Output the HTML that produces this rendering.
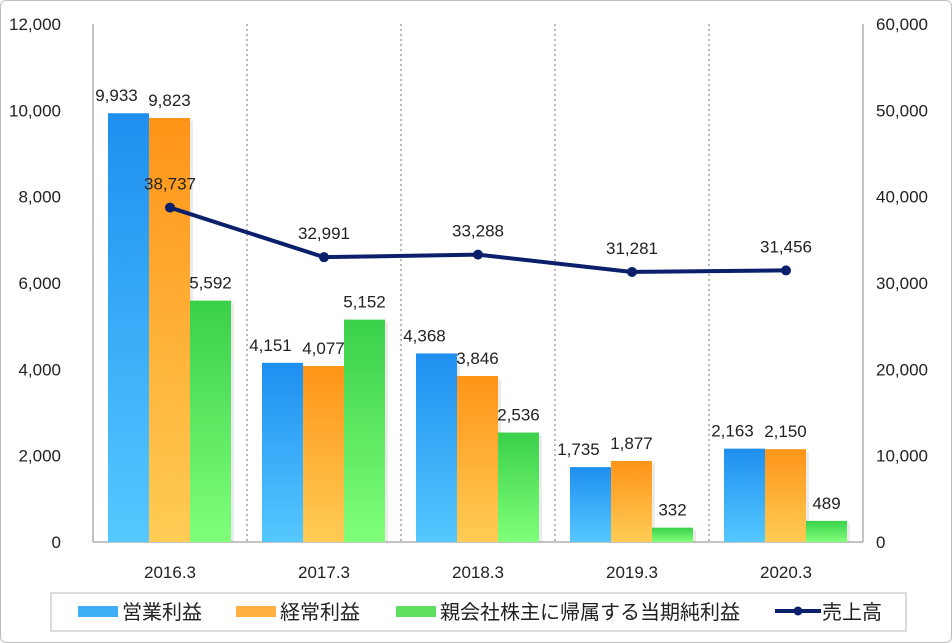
<!DOCTYPE html>
<html><head><meta charset="utf-8"><style>
html,body{margin:0;padding:0;background:#fff;}
#wrap{position:relative;width:950px;height:641px;border:1px solid #bdbdbd;border-radius:6px;overflow:hidden;}
svg text{font-family:"Liberation Sans","Noto Sans CJK JP",sans-serif;fill:#222;}
</style></head><body>
<div id="wrap">
<svg id="chart" width="952" height="643">
<defs>
<linearGradient id="gBlue" x1="0" y1="0" x2="0" y2="1"><stop offset="0" stop-color="#1e8ff0"/><stop offset="1" stop-color="#55c8ff"/></linearGradient>
<linearGradient id="gOrange" x1="0" y1="0" x2="0" y2="1"><stop offset="0" stop-color="#ff9418"/><stop offset="1" stop-color="#ffcc55"/></linearGradient>
<linearGradient id="gGreen" x1="0" y1="0" x2="0" y2="1"><stop offset="0" stop-color="#3ad04a"/><stop offset="1" stop-color="#80ff7a"/></linearGradient>
</defs>
</svg>
</div>
<script>
const categories=["2016.3","2017.3","2018.3","2019.3","2020.3"];
const operatingProfit=[9933,4151,4368,1735,2163];
const ordinaryProfit=[9823,4077,3846,1877,2150];
const netProfit=[5592,5152,2536,332,489];
const sales=[38737,32991,33288,31281,31456];
const leftTicks=[0,2000,4000,6000,8000,10000,12000];
const rightTicks=[0,10000,20000,30000,40000,50000,60000];

const NS="http://www.w3.org/2000/svg";
const svg=document.getElementById('chart');
const X0=92,X1=862,Y0=541,Y1=23;
const gw=(X1-X0)/categories.length;
const yL=v=>Y0-(v/12000)*(Y0-Y1);
const yR=v=>Y0-(v/60000)*(Y0-Y1);
const xc=i=>X0+gw*(i+0.5);
function mk(t,a,txt){const e=document.createElementNS(NS,t);for(const k in a)e.setAttribute(k,a[k]);if(txt!==undefined)e.textContent=txt;svg.appendChild(e);return e;}
const fmt=v=>v.toLocaleString('en-US');

for(let i=1;i<categories.length;i++){
 const g=mk('line',{x1:X0+gw*i,x2:X0+gw*i,y1:Y1,y2:Y0,stroke:'#777','stroke-dasharray':'2,3'});
 
 
}
const la=mk('line',{x1:X0,x2:X0,y1:Y1,y2:Y0,stroke:'#888'});


const ra=mk('line',{x1:X1,x2:X1,y1:Y1,y2:Y0,stroke:'#888'});


const ba=mk('line',{x1:X0,x2:X1,y1:Y0,y2:Y0,stroke:'#888'});



leftTicks.forEach(v=>{const t=mk('text',{x:60,y:yL(v)+6,'text-anchor':'end','font-size':17},fmt(v));
 
 });
rightTicks.forEach(v=>{const t=mk('text',{x:875,y:yR(v)+6,'font-size':17},fmt(v));
 
 });
categories.forEach((c,i)=>{const t=mk('text',{x:xc(i),y:577,'text-anchor':'middle','font-size':17},c);
 
 });

const series=[[operatingProfit,'url(#gBlue)','bar-operating-profit'],[ordinaryProfit,'url(#gOrange)','bar-ordinary-profit'],[netProfit,'url(#gGreen)','bar-net-profit']];
const bw=41;
series.forEach((s,k)=>{
 s[0].forEach((v,i)=>{
  const x=xc(i)-62+k*bw;
  const sh=mk('rect',{x:x+3,y:yL(v)+3,width:bw,height:Y0-yL(v)-3,fill:'#000',opacity:0.08});
  
  
  const r=mk('rect',{x:x,y:yL(v),width:bw,height:Y0-yL(v),fill:s[1]});
  
  
  const lx=k==0?x+bw/2-12:x+bw/2;
  const t=mk('text',{x:lx,y:yL(v)-12,'text-anchor':'middle','font-size':17},fmt(v));
  
  
 });
});

const pts=sales.map((v,i)=>xc(i)+','+yR(v)).join(' ');
const pl=mk('polyline',{points:pts,fill:'none',stroke:'#0b1f6b','stroke-width':4});


sales.forEach((v,i)=>{
 const c=mk('circle',{cx:xc(i),cy:yR(v),r:5,fill:'#0b1f6b'});
 
 
 const t=mk('text',{x:xc(i),y:yR(v)-18,'text-anchor':'middle','font-size':17},fmt(v));
 
 
});

const lb=mk('rect',{x:50,y:592,width:855,height:38,fill:'#fff',stroke:'#d0d0d0','stroke-width':1.5});


const leg=[[77,'#3fb0f8','営業利益','legend-operating-profit'],[235,'#ffb040','経常利益','legend-ordinary-profit'],[395,'#5de060','親会社株主に帰属する当期純利益','legend-net-profit']];
leg.forEach(l=>{
 const r=mk('rect',{x:l[0],y:605,width:40,height:11,fill:l[1]});
 
 
 const t=mk('text',{x:l[0]+44,y:618,'font-size':20},l[2]);
 
 
});
const ll=mk('line',{x1:774,x2:820,y1:610,y2:610,stroke:'#0b1f6b','stroke-width':4});


const lc=mk('circle',{cx:797,cy:610,r:4.5,fill:'#0b1f6b'});


const lt=mk('text',{x:821,y:618,'font-size':20},'売上高');


</script>
</body></html>
